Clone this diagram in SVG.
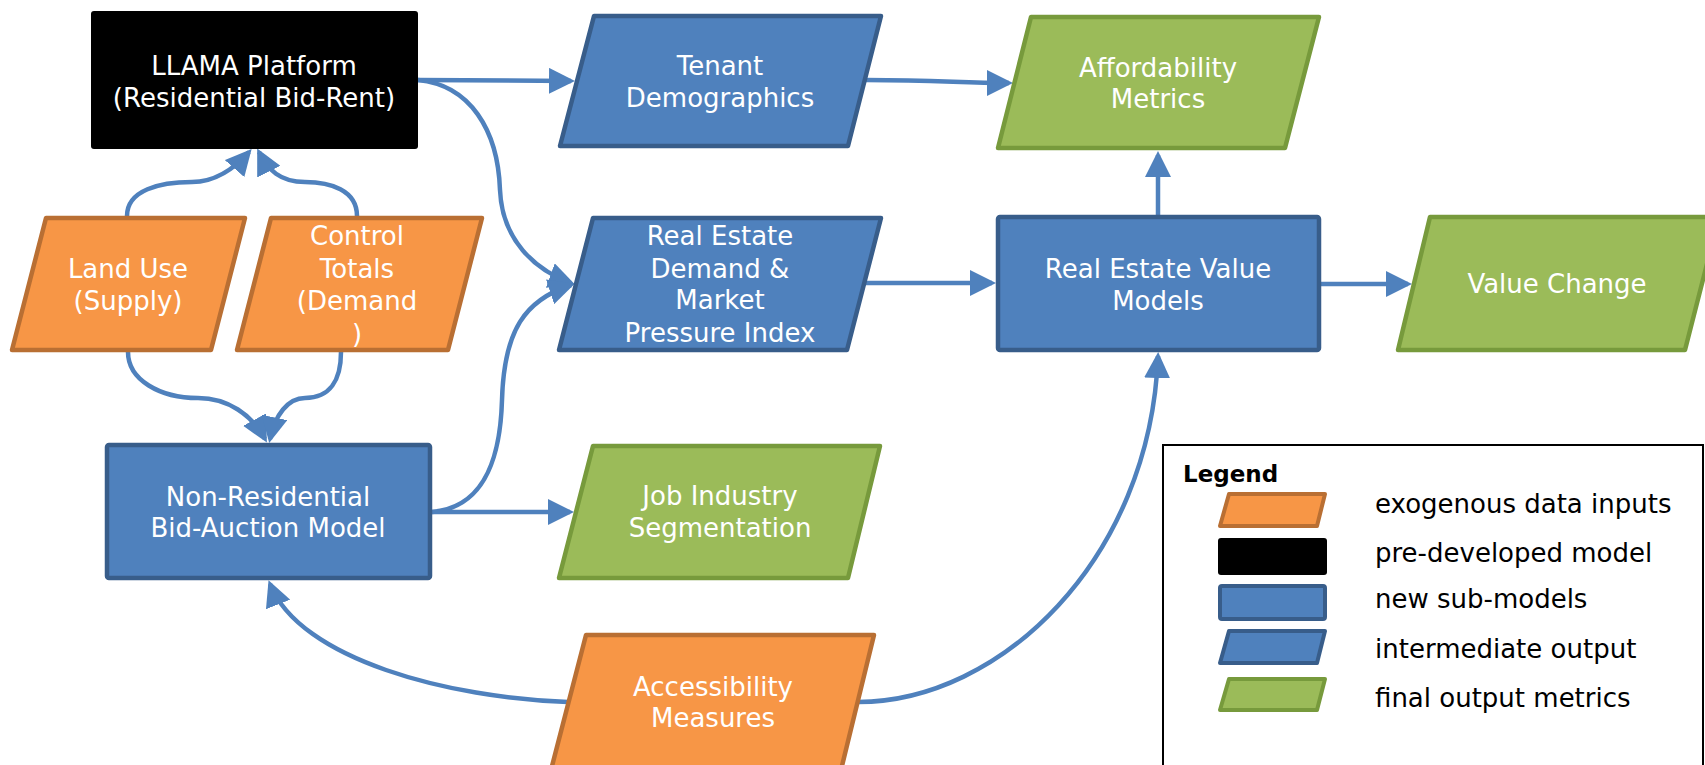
<svg xmlns="http://www.w3.org/2000/svg" width="1705" height="765" viewBox="0 0 1705 765">
<style>
.t{font-family:"DejaVu Sans","Liberation Sans",sans-serif;font-size:26px;fill:#ffffff;text-anchor:middle}
.lt{font-family:"DejaVu Sans","Liberation Sans",sans-serif;font-size:26px;fill:#000000}
.blue{fill:#4F81BD;stroke:#385D8A;stroke-width:4.5;stroke-linejoin:round}
.org{fill:#F79646;stroke:#B96F33;stroke-width:4.5;stroke-linejoin:round}
.grn{fill:#9BBB59;stroke:#779A3C;stroke-width:4.5;stroke-linejoin:round}
.c{fill:none;stroke:#4F81BD;stroke-width:4.5;marker-end:url(#ah)}
</style>
<defs>
<marker id="ah" markerUnits="userSpaceOnUse" markerWidth="26" markerHeight="26" refX="22" refY="13" orient="auto" viewBox="0 0 26 26">
<path d="M0,0 L26,13 L0,26 z" fill="#4F81BD"/>
</marker>
</defs>
<rect width="1705" height="765" fill="#ffffff"/>

<g id="connectors">
<path class="c" d="M418,80 L571,81"/>
<path class="c" d="M866,80 C940,80 960,83 1009,83"/>
<path class="c" d="M865,283 H992"/>
<path class="c" d="M1158,215 V155"/>
<path class="c" d="M1321,284 H1408"/>
<path class="c" d="M127,216 C127,190 160,182 192,182 C215,182 235,168 249,152"/>
<path class="c" d="M357,216 C357,190 330,182 305,182 C280,182 268,170 259,152"/>
<path class="c" d="M128,352 C128,380 160,398 198,398 C228,398 252,415 265,439"/>
<path class="c" d="M341,352 C341,380 330,398 305,398 C288,398 275,415 270,439"/>
<path class="c" d="M418,80 C470,85 498,130 500,190 C502,240 535,270 571,283"/>
<path class="c" d="M432,512 C478,508 500,470 502,400 C504,330 525,300 571,285"/>
<path class="c" d="M432,512 H570"/>
<path class="c" d="M568,702 C450,698 300,660 270,584"/>
<path class="c" d="M858,702 C1000,702 1150,560 1158,356"/>
</g>

<g id="llama">
<rect x="91" y="11" width="327" height="138" rx="3" fill="#000000"/>
<text class="t" x="254" y="75">LLAMA Platform</text>
<text class="t" x="254" y="107">(Residential Bid-Rent)</text>
</g>

<g id="land-use">
<polygon class="org" points="46,218 245,218 211,350 12,350"/>
<text class="t" x="128" y="278">Land Use</text>
<text class="t" x="128" y="310">(Supply)</text>
</g>

<g id="control-totals">
<polygon class="org" points="271,218 482,218 448,350 237,350"/>
<text class="t" x="357" y="245">Control</text>
<text class="t" x="357" y="278">Totals</text>
<text class="t" x="357" y="310">(Demand</text>
<text class="t" x="357" y="343">)</text>
</g>

<g id="tenant">
<polygon class="blue" points="594,16 881,16 848,146 560,146"/>
<text class="t" x="720" y="75">Tenant</text>
<text class="t" x="720" y="107">Demographics</text>
</g>

<g id="affordability">
<polygon class="grn" points="1031,17 1319,17 1285,148 998,148"/>
<text class="t" x="1158" y="77">Affordability</text>
<text class="t" x="1158" y="108">Metrics</text>
</g>

<g id="re-demand">
<polygon class="blue" points="593,218 881,218 847,350 559,350"/>
<text class="t" x="720" y="245">Real Estate</text>
<text class="t" x="720" y="278">Demand &amp;</text>
<text class="t" x="720" y="309">Market</text>
<text class="t" x="720" y="342">Pressure Index</text>
</g>

<g id="re-value">
<rect class="blue" x="998" y="217" width="321" height="133" rx="2"/>
<text class="t" x="1158" y="278">Real Estate Value</text>
<text class="t" x="1158" y="310">Models</text>
</g>

<g id="value-change">
<polygon class="grn" points="1430,217 1719,217 1685,350 1398,350"/>
<text class="t" x="1557" y="293">Value Change</text>
</g>

<g id="non-res">
<rect class="blue" x="107" y="445" width="323" height="133" rx="2"/>
<text class="t" x="268" y="506">Non-Residential</text>
<text class="t" x="268" y="537">Bid-Auction Model</text>
</g>

<g id="job-industry">
<polygon class="grn" points="593,446 880,446 848,578 559,578"/>
<text class="t" x="720" y="505">Job Industry</text>
<text class="t" x="720" y="537">Segmentation</text>
</g>

<g id="accessibility">
<polygon class="org" points="586,635 874,635 841,770 551,770"/>
<text class="t" x="713" y="696">Accessibility</text>
<text class="t" x="713" y="727">Measures</text>
</g>

<g id="legend">
<rect x="1163" y="445" width="540" height="330" fill="#ffffff" stroke="#000000" stroke-width="2"/>
<text x="1183" y="482" style="font-family:'DejaVu Sans','Liberation Sans',sans-serif;font-size:23px;font-weight:bold;fill:#000">Legend</text>
<polygon class="org" points="1229,494 1325,494 1317,526 1220,526" style="stroke-width:4"/>
<rect x="1218" y="538" width="109" height="37" rx="3" fill="#000000"/>
<rect class="blue" x="1220" y="586" width="105" height="33" rx="2" style="stroke-width:4"/>
<polygon class="blue" points="1229,631 1325,631 1317,663 1220,663" style="stroke-width:4"/>
<polygon class="grn" points="1229,679 1325,679 1317,710 1220,710" style="stroke-width:4"/>
<text class="lt" x="1375" y="513">exogenous data inputs</text>
<text class="lt" x="1375" y="562">pre-developed model</text>
<text class="lt" x="1375" y="608">new sub-models</text>
<text class="lt" x="1375" y="658">intermediate output</text>
<text class="lt" x="1375" y="707">final output metrics</text>
</g>
</svg>
